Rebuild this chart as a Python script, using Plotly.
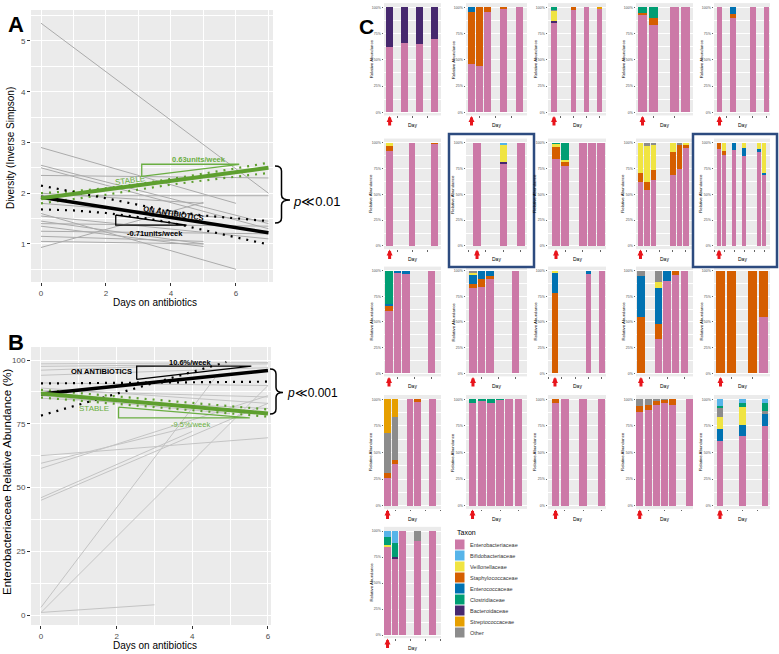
import plotly.graph_objects as go

W, H = 779, 654

# ---------------- panel A: diversity per patient (all start at day 0) ----------------
a_start = [5.35, 2.9, 2.55, 2.5, 2.35, 1.95, 0.93, 1.6, 1.55, 1.45, 1.35, 1.25, 1.15, 1.05, 1.4, 2.0, 1.8]
a_end_day = [7, 6, 7, 7, 7, 7, 5, 6, 7, 5, 5, 7, 5, 5, 7, 5, 7]
a_end = [2.0, 1.8, 1.4, 1.3, 2.3, 1.95, 1.82, 0.5, 1.1, 1.0, 0.95, 1.2, 1.05, 1.0, 1.35, 1.8, 1.45]

a_fit_x = [0, 7]
a_stable = [1.9, 2.5]
a_abx = [1.92, 1.22]
a_ci_x = [0, 1, 2, 3, 4, 5, 6, 7]
a_abx_hi = [2.15, 2.03, 1.9, 1.77, 1.65, 1.56, 1.5, 1.45]
a_abx_lo = [1.68, 1.66, 1.61, 1.53, 1.42, 1.27, 1.13, 0.99]
a_stable_hi = [2.0, 2.04, 2.1, 2.18, 2.28, 2.38, 2.49, 2.6]
a_stable_lo = [1.8, 1.88, 1.97, 2.07, 2.17, 2.25, 2.32, 2.4]

# slope triangles (corner points)
a_tri_stable_x = [3.1, 3.1, 6.1, 3.1]
a_tri_stable_y = [2.33, 2.57, 2.57, 2.33]
a_tri_abx_x = [2.3, 2.3, 4.48, 2.3]
a_tri_abx_y = [1.57, 1.37, 1.37, 1.57]

# ---------------- panel B: Enterobacteriaceae relative abundance ----------------
b_start = [1, 3, 1, 45, 46, 57.5, 59.5, 62.5, 98.5, 97.5, 96, 94, 89, 88, 91, 86, 85]
b_end_day = [3, 4.6, 6, 6, 4, 6, 4, 6, 6, 6, 3, 6, 6, 6, 6, 5, 6]
b_end = [4, 93, 90, 83, 72, 86, 74, 69.5, 99, 98.5, 97.5, 97, 83, 85.5, 90, 79, 81]

b_fit_x = [0, 6]
b_abx = [86.7, 95.9]
b_stable = [86.9, 79.0]
b_abx_ci1_x = [0, 6]
b_abx_ci1_y = [90.8, 91.5]
b_abx_ci2_x = [0, 4.9]
b_abx_ci2_y = [78.2, 99.2]
b_stable_hi = [88.3, 80.6]
b_stable_lo = [85.3, 77.8]

b_tri_abx_x = [2.53, 2.53, 5.56, 2.53]
b_tri_abx_y = [92.4, 97.6, 97.6, 92.4]
b_tri_stable_x = [2.05, 2.05, 5.52, 2.05]
b_tri_stable_y = [81.5, 77.3, 77.3, 81.5]

# ---------------- panel C: taxon composition per patient ----------------
taxa = ["Enterobacteriaceae", "Bifidobacteriaceae", "Veillonellaceae", "Staphylococcaceae",
        "Enterococcaceae", "Clostridiaceae", "Bacteroidaceae", "Streptococcaceae", "Other"]
taxa_keys = ["Ent", "Bif", "Vei", "Sta", "Enc", "Clo", "Bac", "Str", "Oth"]
taxa_colors = ["#CC79A7", "#56B4E9", "#F0E442", "#D55E00", "#0072B2", "#009E73",
               "#46286E", "#E69F00", "#8C8C8C"]
stack_order = ["Ent", "Sta", "Enc", "Bac", "Vei", "Oth", "Str", "Clo", "Bif"]
pct_ticks = [0, 25, 50, 75, 100]
pct_labels = ["0%", "25%", "50%", "75%", "100%"]

p01_days = [0, 2, 4, 6]
p01 = {"Ent": [62, 66, 65, 70], "Bac": [38, 34, 35, 30]}
p02_days = [0, 1, 2, 4, 6]
p02 = {"Ent": [46, 44, 96, 98.4, 100], "Sta": [49.5, 56, 4, 1.6, 0], "Enc": [4.5, 0, 0, 0, 0]}
p03_days = [0, 3, 5, 7]
p03 = {"Ent": [85, 97.4, 100, 98.4], "Sta": [0, 2.6, 0, 0], "Bac": [2, 0, 0, 0],
       "Vei": [9.5, 0, 0, 0], "Oth": [1, 0, 0, 0], "Str": [0, 0, 0, 1.6], "Clo": [2.5, 0, 0, 0]}
p04_days = [0, 1, 3, 4]
p04 = {"Ent": [92.6, 82.7, 100, 100], "Sta": [2.3, 6.8, 0, 0], "Clo": [5.1, 10.5, 0, 0]}
p05_days = [0, 2, 5, 7]
p05 = {"Ent": [100, 90, 100, 100], "Sta": [0, 4, 0, 0], "Enc": [0, 6, 0, 0]}

p06_days = [0, 3, 6]
p06 = {"Ent": [92.3, 100, 99.4], "Sta": [4.5, 0, 0.6], "Vei": [3.2, 0, 0]}
p07_days = [0, 3, 5]
p07 = {"Ent": [100, 80, 100], "Bac": [0, 1, 0], "Vei": [0, 16.8, 0], "Bif": [0, 2.2, 0]}
p08_days = [0, 1, 3, 4, 5]
p08 = {"Ent": [84, 77, 100, 100, 100], "Sta": [11.5, 4, 0, 0, 0], "Vei": [3.9, 2, 0, 0, 0],
       "Clo": [0.6, 17, 0, 0, 0]}
p09_days = [0, 1, 2, 5, 6, 7]
p09 = {"Ent": [62.3, 54.2, 63.9, 68.7, 74.2, 94.5], "Sta": [8.7, 8.1, 9.7, 22.6, 24.5, 3.2],
       "Vei": [29, 34.5, 24.2, 8.7, 0, 2.3], "Oth": [0, 3.2, 2.2, 0, 1.3, 0]}
p10_days = [0, 1, 3, 5, 8, 9]
p10 = {"Ent": [94.2, 87.7, 92.9, 87, 90.9, 69.2], "Sta": [5.8, 4.2, 0, 0, 0, 0],
       "Enc": [0, 0, 7.1, 8.1, 2.6, 1.6], "Vei": [0, 8.1, 0, 4.9, 6.5, 29.2]}

p11_days = [0, 1, 2, 5]
p11 = {"Ent": [61, 97.4, 96.8, 100], "Sta": [4.5, 0, 0, 0], "Enc": [2, 2.6, 3.2, 0],
       "Clo": [32.5, 0, 0, 0]}
p12_days = [0, 1, 2, 5]
p12 = {"Ent": [82.8, 83.8, 91.6, 100], "Sta": [4.2, 7.8, 3.2, 0], "Enc": [9.7, 8.4, 5.2, 0],
       "Vei": [1.3, 0, 0, 0], "Oth": [2, 0, 0, 0]}
p13_days = [0, 5, 7]
p13 = {"Ent": [0, 96.8, 100], "Sta": [77.9, 0, 0], "Enc": [20.1, 3.2, 0], "Vei": [2, 0, 0]}
p14_days = [0, 2, 3, 4, 5]
p14 = {"Ent": [0, 33.1, 90.3, 95.8, 100], "Sta": [55.2, 15, 0, 4.2, 0],
       "Enc": [39.6, 34.7, 9.7, 0, 0], "Vei": [0, 6.5, 0, 0, 0], "Oth": [5.2, 10.7, 0, 0, 0]}
p15_days = [0, 1, 3, 4]
p15 = {"Ent": [0, 0, 0, 54.5], "Sta": [100, 100, 100, 45.5]}

p16_days = [0, 1, 3, 4, 6]
p16 = {"Ent": [25.7, 39.2, 100, 97.8, 100], "Sta": [4.7, 3.8, 0, 2.2, 0],
       "Oth": [37.6, 40.1, 0, 0, 0], "Str": [32, 16.9, 0, 0, 0]}
p17_days = [0, 1, 2, 3, 4, 5]
p17 = {"Ent": [96.2, 98.4, 96.2, 99.4, 100, 100], "Clo": [3.8, 1.6, 3.8, 0.6, 0, 0]}
p18_days = [0, 1, 3, 5]
p18 = {"Ent": [96.2, 100, 100, 100], "Sta": [3.8, 0, 0, 0]}
p19_days = [0, 1, 2, 3, 4, 6]
p19 = {"Ent": [88.4, 90, 94.7, 96.2, 94.7, 100], "Sta": [5.3, 4.7, 4.1, 3.1, 5.3, 0],
       "Oth": [6.3, 5.3, 1.2, 0.7, 0, 0]}
p20_days = [0, 3, 6]
p20 = {"Ent": [61, 65.5, 74.9], "Enc": [11, 10.3, 11.3], "Vei": [11, 17.2, 0],
       "Oth": [9.5, 0, 3.1], "Clo": [1.5, 3.8, 6.9], "Bif": [6, 3.2, 3.8]}

p21_days = [0, 1, 2, 4, 6]
p21 = {"Ent": [84.9, 73.7, 100, 90.7, 100], "Bac": [0, 1, 0, 0, 0], "Vei": [1.6, 0, 0, 0, 0],
       "Oth": [0, 0, 0, 9.3, 0], "Clo": [8, 14.1, 0, 0, 0], "Bif": [5.5, 11.2, 0, 0, 0]}

panels = [(p01_days, p01), (p02_days, p02), (p03_days, p03), (p04_days, p04), (p05_days, p05),
          (p06_days, p06), (p07_days, p07), (p08_days, p08), (p09_days, p09), (p10_days, p10),
          (p11_days, p11), (p12_days, p12), (p13_days, p13), (p14_days, p14), (p15_days, p15),
          (p16_days, p16), (p17_days, p17), (p18_days, p18), (p19_days, p19), (p20_days, p20),
          (p21_days, p21)]

# layout of the small panels (pixels)
col_px = [(384, 441), (466, 527), (548, 606), (636, 693), (714, 770)]
row_px = [(112.3, 7.3), (246, 142.7), (373.3, 270.7), (505.7, 399.3), (635, 531)]
x_ranges = [[-0.75, 6.85], [-0.69, 6.94], [-0.92, 8.0], [-0.61, 4.72], [-0.82, 7.54],
            [-0.75, 6.85], [-1.26, 5.71], [-0.89, 5.56], [-0.69, 8.08], [-1.0, 10.2],
            [-0.59, 6.12], [-0.82, 6.35], [-1.04, 7.61], [-0.57, 5.98], [-0.61, 4.63],
            [-0.47, 7.13], [-0.71, 5.92], [-0.82, 5.49], [-0.45, 6.42], [-0.8, 6.67],
            [-0.47, 7.13]]

FONT = "Liberation Sans, Arial, sans-serif"
GREEN = "#5E9F2F"
GREEN_TXT = "#6AAE42"


def fx(p):
    return p / W


def fy(p):
    return 1 - p / H


fig = go.Figure()


def segs(starts, end_days, ends):
    xs, ys = [], []
    for s, d, e in zip(starts, end_days, ends):
        xs += [0, d, None]
        ys += [s, e, None]
    return xs, ys


# ----- panel A traces -----
gx, gy = segs(a_start, a_end_day, a_end)
fig.add_trace(go.Scatter(x=gx, y=gy, mode="lines", line=dict(color="#ABABAB", width=1),
                         xaxis="x", yaxis="y"))
for ys, col in [(a_stable_hi, GREEN), (a_stable_lo, GREEN), (a_abx_hi, "black"), (a_abx_lo, "black")]:
    fig.add_trace(go.Scatter(x=a_ci_x, y=ys, mode="lines", line=dict(color=col, width=2.2, dash="2px,6px"),
                             xaxis="x", yaxis="y"))
fig.add_trace(go.Scatter(x=a_fit_x, y=a_abx, mode="lines", line=dict(color="black", width=3.5),
                         xaxis="x", yaxis="y"))
fig.add_trace(go.Scatter(x=a_fit_x, y=a_stable, mode="lines", line=dict(color=GREEN, width=4),
                         xaxis="x", yaxis="y"))
fig.add_trace(go.Scatter(x=a_tri_stable_x, y=a_tri_stable_y, mode="lines",
                         line=dict(color=GREEN_TXT, width=1.3), xaxis="x", yaxis="y"))
fig.add_trace(go.Scatter(x=a_tri_abx_x, y=a_tri_abx_y, mode="lines",
                         line=dict(color="black", width=1.3), xaxis="x", yaxis="y"))

# ----- panel B traces -----
gx, gy = segs(b_start, b_end_day, b_end)
fig.add_trace(go.Scatter(x=gx, y=gy, mode="lines", line=dict(color="#C4C4C4", width=1),
                         xaxis="x2", yaxis="y2"))
fig.add_trace(go.Scatter(x=b_fit_x, y=b_stable_hi, mode="lines",
                         line=dict(color=GREEN, width=2.2, dash="2px,6px"), xaxis="x2", yaxis="y2"))
fig.add_trace(go.Scatter(x=b_fit_x, y=b_stable_lo, mode="lines",
                         line=dict(color=GREEN, width=2.2, dash="2px,6px"), xaxis="x2", yaxis="y2"))
fig.add_trace(go.Scatter(x=b_abx_ci1_x, y=b_abx_ci1_y, mode="lines",
                         line=dict(color="black", width=2.2, dash="2px,6px"), xaxis="x2", yaxis="y2"))
fig.add_trace(go.Scatter(x=b_abx_ci2_x, y=b_abx_ci2_y, mode="lines",
                         line=dict(color="black", width=2.2, dash="2px,6px"), xaxis="x2", yaxis="y2"))
fig.add_trace(go.Scatter(x=b_fit_x, y=b_abx, mode="lines", line=dict(color="black", width=3.5),
                         xaxis="x2", yaxis="y2"))
fig.add_trace(go.Scatter(x=b_fit_x, y=b_stable, mode="lines", line=dict(color=GREEN, width=4),
                         xaxis="x2", yaxis="y2"))
fig.add_trace(go.Scatter(x=b_tri_abx_x, y=b_tri_abx_y, mode="lines",
                         line=dict(color="black", width=1.3), xaxis="x2", yaxis="y2"))
fig.add_trace(go.Scatter(x=b_tri_stable_x, y=b_tri_stable_y, mode="lines",
                         line=dict(color=GREEN_TXT, width=1.3), xaxis="x2", yaxis="y2"))

tickfont_main = dict(size=8, color="#4D4D4D", family=FONT)
layout = dict(
    width=W, height=H, margin=dict(l=0, r=0, t=0, b=0),
    paper_bgcolor="white", plot_bgcolor="#EBEBEB", showlegend=False,
    barmode="stack", font=dict(family=FONT),
    xaxis=dict(domain=[fx(31), fx(273)], range=[-0.308, 7.14], anchor="y",
               tickvals=[0, 2, 4, 6], ticks="outside", ticklen=3, tickcolor="#333333",
               tickfont=tickfont_main, showgrid=True, gridcolor="white", gridwidth=1.1,
               minor=dict(tickvals=[1, 3, 5, 7], showgrid=True, gridcolor="white", gridwidth=0.5),
               zeroline=False, fixedrange=True),
    yaxis=dict(domain=[fy(282), fy(10)], range=[0.25, 5.61], anchor="x",
               tickvals=[1, 2, 3, 4, 5], ticks="outside", ticklen=3, tickcolor="#333333",
               tickfont=tickfont_main, showgrid=True, gridcolor="white", gridwidth=1.1,
               minor=dict(tickvals=[0.5, 1.5, 2.5, 3.5, 4.5, 5.5], showgrid=True,
                          gridcolor="white", gridwidth=0.5),
               zeroline=False, fixedrange=True),
    xaxis2=dict(domain=[fx(31), fx(271)], range=[-0.264, 6.08], anchor="y2",
                tickvals=[0, 2, 4, 6], ticks="outside", ticklen=3, tickcolor="#333333",
                tickfont=tickfont_main, showgrid=True, gridcolor="white", gridwidth=1.1,
                minor=dict(tickvals=[1, 3, 5], showgrid=True, gridcolor="white", gridwidth=0.5),
                zeroline=False, fixedrange=True),
    yaxis2=dict(domain=[fy(625), fy(347)], range=[-3.92, 105.1], anchor="x2",
                tickvals=[0, 25, 50, 75, 100], ticks="outside", ticklen=3, tickcolor="#333333",
                tickfont=tickfont_main, showgrid=True, gridcolor="white", gridwidth=1.1,
                minor=dict(tickvals=[12.5, 37.5, 62.5, 87.5], showgrid=True,
                           gridcolor="white", gridwidth=0.5),
                zeroline=False, fixedrange=True),
)

annotations = []
shapes = []


def note(text, x, y, size, color="black", xref="paper", yref="paper", angle=0, xanchor="center", **kw):
    annotations.append(dict(text=text, x=x, y=y, xref=xref, yref=yref, showarrow=False,
                            textangle=angle, xanchor=xanchor, yanchor="middle",
                            font=dict(size=size, color=color, family=FONT), **kw))


# panel letters
note("<b>A</b>", fx(16), fy(25), 22)
note("<b>B</b>", fx(16), fy(342), 22)
note("<b>C</b>", fx(366), fy(26), 21)

# axis titles of A and B
note("Days on antibiotics", fx(155), fy(302), 10)
note("Diversity (Inverse Simpson)", fx(10), fy(148), 10, angle=-90)
note("Days on antibiotics", fx(155), fy(645), 10)
note("Enterobacteriaceae Relative Abundance (%)", fx(7), fy(482), 11.5, angle=-90)

# in-plot labels A
note("<b>0.63units/week</b>", 4.86, 2.66, 7.5, GREEN_TXT, "x", "y")
note("STABLE", 2.74, 2.26, 8, GREEN_TXT, "x", "y", angle=-7.6)
note("<b>ON ANTIBIOTICS</b>", 4.07, 1.6, 7.5, "black", "x", "y", angle=8.9)
note("<b>-0.71units/week</b>", 3.51, 1.21, 7.5, "black", "x", "y")
# in-plot labels B
note("<b>10.6%/week</b>", 3.94, 98.95, 7.5, "black", "x2", "y2")
note("<b>ON ANTIBIOTICS</b>", 1.61, 95.4, 7.5, "black", "x2", "y2")
note("STABLE", 1.39, 81.0, 8, GREEN_TXT, "x2", "y2")
note("-9.5%/week", 3.94, 74.6, 7.5, GREEN_TXT, "x2", "y2")


# braces with p-values
def brace(x0, xm, xt, top, tip, bot):
    r = 5
    path = (f"M {fx(x0)},{fy(top)} Q {fx(xm)},{fy(top)} {fx(xm)},{fy(top + r)} "
            f"L {fx(xm)},{fy(tip - r)} Q {fx(xm)},{fy(tip)} {fx(xt)},{fy(tip)} "
            f"Q {fx(xm)},{fy(tip)} {fx(xm)},{fy(tip + r)} "
            f"L {fx(xm)},{fy(bot - r)} Q {fx(xm)},{fy(bot)} {fx(x0)},{fy(bot)}")
    shapes.append(dict(type="path", path=path, xref="paper", yref="paper",
                       line=dict(color="black", width=1.5)))


brace(275, 281.5, 290, 166, 200, 223)
brace(270, 276, 283, 369, 392.5, 414)
note("<i>p</i>\u226a0.01", fx(291), fy(201), 13, xanchor="left")
note("<i>p</i>\u226a0.001", fx(285), fy(393), 12, xanchor="left")

# ----- panel C -----
for i, (days, comp) in enumerate(panels):
    r, c = divmod(i, 5)
    n = i + 3
    for key in stack_order:
        if key not in comp:
            continue
        fig.add_trace(go.Bar(x=days, y=comp[key], width=0.85,
                             marker=dict(color=taxa_colors[taxa_keys.index(key)], line=dict(width=0)),
                             xaxis=f"x{n}", yaxis=f"y{n}", hoverinfo="skip"))
    x0, x1 = col_px[c]
    y0, y1 = row_px[r]
    ppp = (y0 - y1) / 100
    top, bot = y1 - 4 * ppp, y0 + 3 * ppp
    layout[f"xaxis{n}"] = dict(domain=[fx(x0), fx(x1)], range=x_ranges[i], anchor=f"y{n}",
                               showgrid=False, zeroline=False, showticklabels=False,
                               ticks="outside", ticklen=1.5, tickwidth=0.5, tickcolor="#666666",
                               tick0=1, dtick=2, fixedrange=True)
    layout[f"yaxis{n}"] = dict(domain=[fy(bot), fy(top)], range=[-3, 104], anchor=f"x{n}",
                               tickvals=pct_ticks, ticktext=pct_labels,
                               tickfont=dict(size=3.5, color="#4D4D4D", family=FONT),
                               ticks="outside", ticklen=1.5, tickwidth=0.5, tickcolor="#666666",
                               showgrid=True, gridcolor="white", gridwidth=0.6,
                               minor=dict(tickvals=[12.5, 37.5, 62.5, 87.5], showgrid=True,
                                          gridcolor="white", gridwidth=0.3),
                               zeroline=False, fixedrange=True)
    note("Day", fx((x0 + x1) / 2), fy(bot + 10), 5)
    note("Relative Abundance", fx(x0 - 13), fy((top + bot) / 2), 4.3, angle=-90)
    # red arrow marking the start of antibiotics
    annotations.append(dict(x=days[0], y=fy(bot + 0.5), xref=f"x{n}", yref="paper", text="",
                            showarrow=True, arrowhead=2, arrowsize=0.4, arrowwidth=3,
                            arrowcolor="#E8141B", ax=0, ay=11))

# highlighted panels
for bx0, bx1 in [(449, 534), (693, 777)]:
    shapes.append(dict(type="rect", xref="paper", yref="paper", x0=fx(bx0), x1=fx(bx1),
                       y0=fy(267), y1=fy(134), line=dict(color="#2D4B7F", width=2.5)))

# taxon legend
note("Taxon", fx(455), fy(532), 7, xanchor="left")
for k, (name, colr) in enumerate(zip(taxa, taxa_colors)):
    ty = 539.5 + 11 * k
    shapes.append(dict(type="rect", xref="paper", yref="paper", x0=fx(455), x1=fx(464.5),
                       y0=fy(ty + 10), y1=fy(ty), fillcolor=colr, line=dict(width=0)))
    note(name, fx(468), fy(ty + 5), 5.5, "#333333", xanchor="left")

layout["annotations"] = annotations
layout["shapes"] = shapes
fig.update_layout(**layout)
fig.update_traces(showlegend=False)

fig.write_html("out.html", config={"displayModeBar": False},
               post_script="document.body.style.margin='0px';")
